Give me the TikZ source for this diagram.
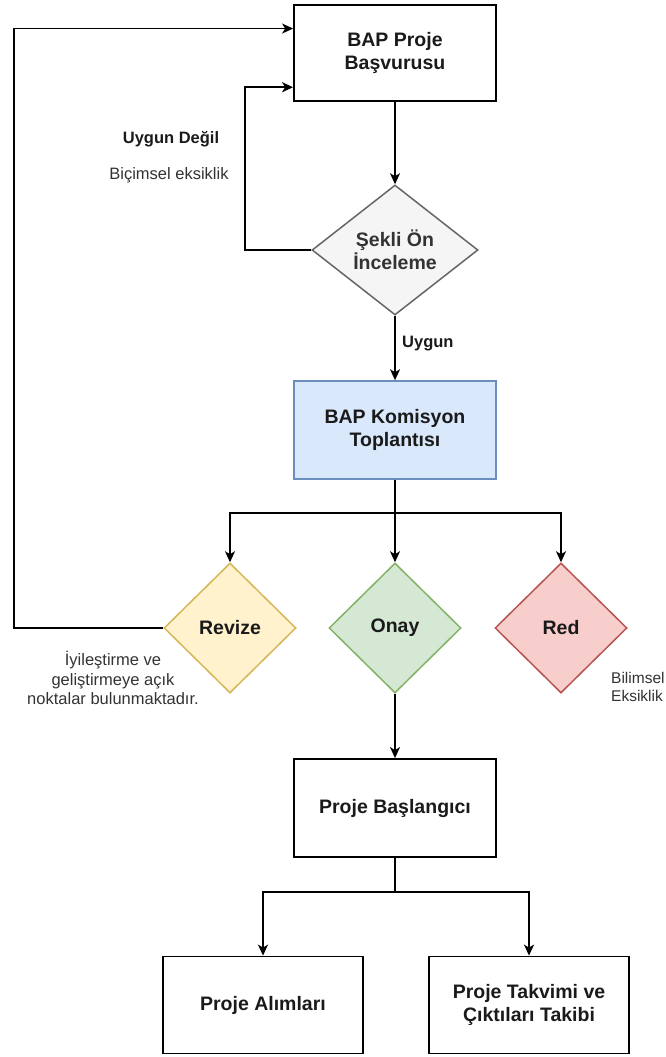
\documentclass[tikz,border=0pt]{standalone}
\usepackage{fontspec}
\setmainfont{Liberation Sans}
\usetikzlibrary{arrows.meta,shapes.geometric,calc}
\definecolor{txt}{HTML}{1A1A1A}
\definecolor{grayfill}{HTML}{F5F5F5}
\definecolor{graystroke}{HTML}{666666}
\definecolor{bluefill}{HTML}{DAE8FC}
\definecolor{bluestroke}{HTML}{6C8EBF}
\definecolor{yellowfill}{HTML}{FFF2CC}
\definecolor{yellowstroke}{HTML}{D6B656}
\definecolor{greenfill}{HTML}{D5E8D4}
\definecolor{greenstroke}{HTML}{82B366}
\definecolor{redfill}{HTML}{F8CECC}
\definecolor{redstroke}{HTML}{B85450}
\definecolor{lbl}{HTML}{333333}
\tikzset{
  boxtext/.style={text=txt, font=\fontsize{19.5}{23.5}\selectfont\bfseries, align=center},
  procbox/.style={boxtext, draw=black, line width=1.8pt, fill=white, rectangle, minimum width=202pt, minimum height=96pt, inner sep=0pt},
  decision/.style={boxtext, diamond, line width=1.5pt, minimum width=132pt, minimum height=130pt, inner sep=0pt, aspect=1},
  arr/.style={line width=1.6pt, draw=black, -{Stealth[length=11pt,width=10pt,inset=3pt]}},
  lblb/.style={text=txt, font=\fontsize{16.5}{19.5}\selectfont\bfseries, align=center, inner sep=0pt},
  lbln/.style={text=lbl, font=\fontsize{16.5}{19.5}\selectfont, align=center, inner sep=0pt},
}
\begin{document}
\begin{tikzpicture}[x=1pt,y=-1pt]
\useasboundingbox (0,0) rectangle (666,1057);
\clip (0,0) rectangle (666,1057);
\fill[white] (0,0) rectangle (666,1057);

% nodes
\node[procbox] (start) at (395,53) {BAP Proje\\Başvurusu};
\node[decision, fill=grayfill, draw=graystroke, text=lbl, minimum width=166pt] (sekli) at (395,250) {Şekli Ön\\İnceleme};
\node[procbox, fill=bluefill, draw=bluestroke, line width=1.5pt, minimum height=98pt] (kom) at (395,430) {BAP Komisyon\\Toplantısı};
\node[decision, fill=yellowfill, draw=yellowstroke] (revize) at (230,628) {Revize};
\node[decision, fill=greenfill, draw=greenstroke] (onay) at (395,628) {Onay};
\node[decision, fill=redfill, draw=redstroke] (red) at (561,628) {Red};
\node[procbox, minimum height=98pt] (basl) at (395,808) {Proje Başlangıcı};
\node[procbox, minimum width=200pt, minimum height=97pt] (alim) at (263,1005) {Proje Alımları};
\node[procbox, minimum width=200pt, minimum height=97pt] (takvim) at (529,1005) {Proje Takvimi ve\\Çıktıları Takibi};

% labels
\node[lblb] (uygundegil) at (171,139) {Uygun Değil};
\node[lbln] (bicimsel) at (169,175) {Biçimsel eksiklik};
\node[lblb, anchor=west] (uygun) at (402,344) {Uygun};
\node[lbln] (revlbl) at (113,678) {İyileştirme ve\\geliştirmeye açık\\noktalar bulunmaktadır.};
\node[lbln, font=\fontsize{15.5}{18.5}\selectfont, align=left, anchor=west] (redlbl) at (611,687) {Bilimsel\\Eksiklik};

% helper coordinates
\coordinate (in1) at ($(start.north west)!0.25!(start.south west)$);
\coordinate (in2) at ($(start.north west)!0.85!(start.south west)$);
\coordinate (lx1) at (14,0);
\coordinate (lx2) at (245,0);

% connectors
\draw[arr] (start.south) -- (sekli.north);
\draw[arr] (sekli.west) -- (sekli.west -| lx2) |- (in2);
\draw[arr] (sekli.south) -- (kom.north);
\draw[arr] (kom.south) -- ++(0,33) -| (revize.north);
\draw[arr] (kom.south) -- (onay.north);
\draw[arr] (kom.south) -- ++(0,33) -| (red.north);
\draw[arr] (revize.west) -- (revize.west -| lx1) |- (in1);
\draw[arr] (onay.south) -- (basl.north);
\draw[arr] (basl.south) -- ++(0,34) -| (alim.north);
\draw[arr] (basl.south) -- ++(0,34) -| (takvim.north);
\end{tikzpicture}
\end{document}
